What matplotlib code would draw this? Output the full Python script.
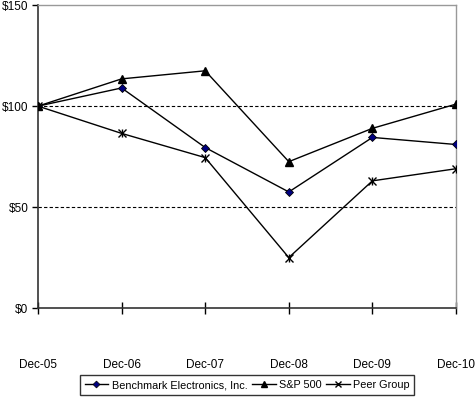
import matplotlib
matplotlib.use("Agg")
import matplotlib.pyplot as plt
from matplotlib.lines import Line2D

# values (cumulative total return, $100 base)
years = ["Dec-05", "Dec-06", "Dec-07", "Dec-08", "Dec-09", "Dec-10"]
benchmark = [100, 109, 79.5, 57.5, 84.5, 81]
sp500 = [100, 113.5, 117.5, 72.5, 89, 101]
peer_group = [100, 86.5, 74.5, 25, 63, 69]

y_ticks = [0, 50, 100, 150]
y_labels = ["$0", "$50", "$100", "$150"]

plt.rcParams["font.family"] = ["Liberation Sans", "DejaVu Sans"]
plt.rcParams["font.size"] = 8.5


def main() -> None:
    fig = plt.figure(figsize=(4.75, 3.98), dpi=100)
    ax = fig.add_axes([0.08, 0.226, 0.88, 0.761])
    x = list(range(len(years)))

    # dashed reference lines
    for v in [50, 100]:
        ax.axhline(v, color="black", linestyle=(0, (3, 2)), linewidth=0.8, zorder=1)

    ax.plot(x, benchmark, color="black", linewidth=1, marker="D", markersize=4.5,
            markerfacecolor="#000080", markeredgecolor="black", markeredgewidth=0.6, zorder=3)
    ax.plot(x, sp500, color="black", linewidth=1, marker="^", markersize=6,
            markerfacecolor="black", markeredgecolor="black", zorder=3)
    ax.plot(x, peer_group, color="black", linewidth=1, marker="x", markersize=6,
            markeredgewidth=1, zorder=3)
    ax.plot(x, peer_group, linestyle="none", marker="|", markersize=6,
            color="black", markeredgewidth=1, zorder=3)

    ax.set_xlim(0, len(years) - 1)
    ax.set_ylim(0, 150)
    ax.set_xticks(x)
    ax.set_xticklabels(years)
    ax.set_yticks(y_ticks)
    ax.set_yticklabels(y_labels)

    ax.tick_params(axis="x", direction="inout", length=8, width=1, pad=33)
    ax.tick_params(axis="y", direction="out", length=4, width=1, pad=3)

    for side in ["left", "bottom"]:
        ax.spines[side].set_color("#333333")
        ax.spines[side].set_linewidth(1.2)
    for side in ["top", "right"]:
        ax.spines[side].set_color("#999999")
        ax.spines[side].set_linewidth(1)

    handles = [
        Line2D([], [], color="black", linewidth=1, marker="D", markersize=3.5,
               markerfacecolor="#000080", markeredgecolor="black", markeredgewidth=0.5),
        Line2D([], [], color="black", linewidth=1, marker="^", markersize=4.5,
               markerfacecolor="black"),
        Line2D([], [], color="black", linewidth=1, marker="x", markersize=4.5),
    ]
    leg = fig.legend(handles, ["Benchmark Electronics, Inc.", "S&P 500", "Peer Group"],
                     loc="center", bbox_to_anchor=(0.52, 0.032), ncol=3,
                     frameon=True, fancybox=False, handlelength=2.2,
                     handletextpad=0.3, columnspacing=0.4, borderpad=0.45,
                     fontsize=7.8)
    leg.get_frame().set_edgecolor("black")
    leg.get_frame().set_linewidth(1)

    fig.savefig("out.png", dpi=100)


if __name__ == "__main__":
    main()
